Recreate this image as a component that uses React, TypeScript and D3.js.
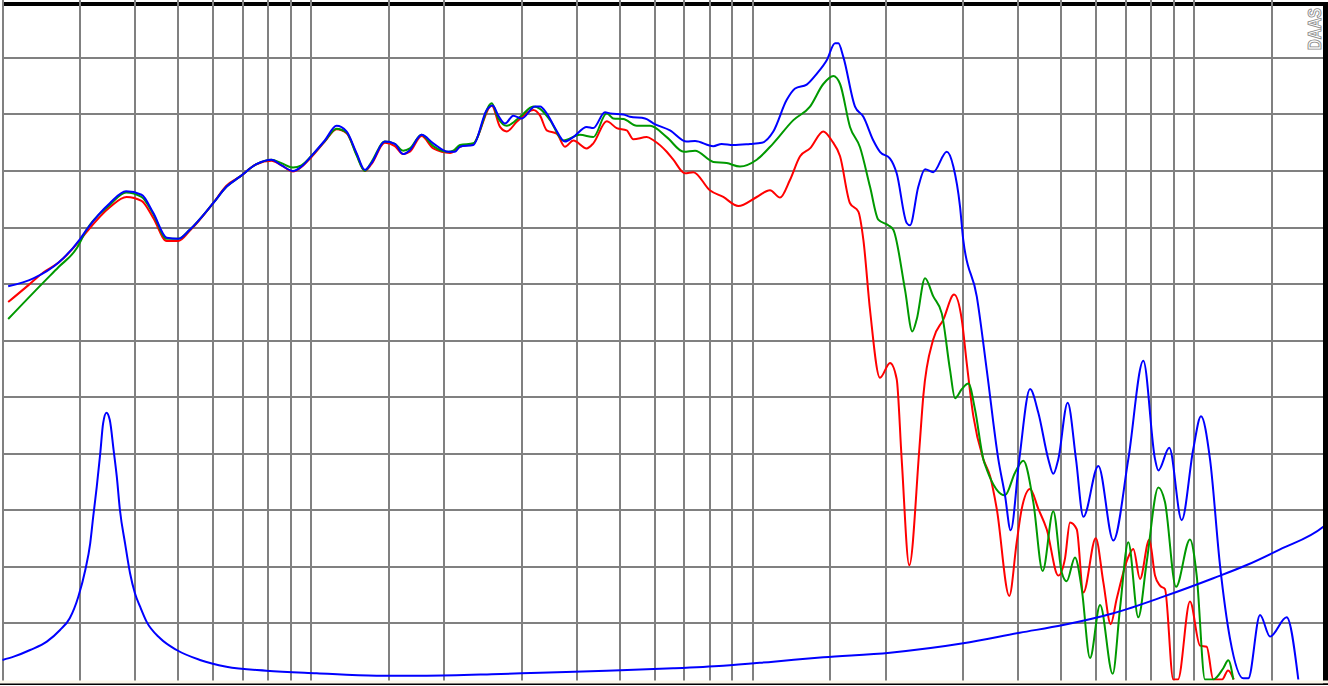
import React from 'react';
import * as d3 from 'd3';

const W = 1328;
const H = 686;

// Frequency grid (Hz) and level grid (dB)
const FREQ_GRID = [20, 30, 40, 50, 60, 70, 80, 90, 100, 150, 200, 300, 400, 500, 600, 700, 800, 900, 1000, 1500, 2000, 3000, 4000, 5000, 6000, 7000, 8000, 9000, 10000, 15000];
const DB_GRID = [45, 50, 55, 60, 65, 70, 75, 80, 85, 90, 95];

// SPL responses [Hz, dB]
const redSpl: [number, number][] = [
  [20.6, 73.4], [22.9, 74.9], [24.7, 76.0], [26.8, 76.9], [30, 78.9], [31, 79.6], [35, 81.8], [38.2, 82.7], [41.3, 82.35], [43.9, 80.85], [47.1, 78.8], [50, 78.8], [53.1, 79.7], [60, 82.15], [64.3, 83.7], [69, 84.5], [75.2, 85.6], [81.3, 85.9], [85.7, 85.5], [91, 84.95], [95.1, 85.35], [100, 86.2], [107.4, 87.6], [114.2, 88.7], [120.3, 88.35], [126.7, 86.5], [132.3, 85.0], [137, 85.6], [146.9, 87.5], [154.8, 87.2], [161.6, 86.5], [167.4, 86.7], [177.9, 88.1], [189.1, 87.0], [206.4, 86.6], [217.4, 87.15], [233, 87.4], [256.5, 90.8], [267.9, 88.9], [277.4, 88.5], [292.3, 89.35], [318.7, 90.4], [330.1, 89.9], [341.8, 88.6], [360.1, 88.3], [375.9, 87.15], [392.6, 87.7], [421, 87.0], [435.7, 87.45], [467.2, 89.4], [492.2, 88.8], [518.6, 88.6], [536.8, 87.8], [575.8, 88.0], [597, 87.7], [639, 86.7], [661.3, 86.0], [703, 84.8], [734, 84.9], [800, 83.3], [858.2, 82.7], [928, 81.9], [1022, 82.7], [1095, 83.3], [1154, 82.65], [1215, 84.2], [1281, 86.3], [1349, 87.0], [1446, 88.5], [1511, 87.7], [1578, 86.3], [1662, 82.15], [1736, 81.4], [1782, 78.9], [1845, 72.7], [1943, 66.7], [2048, 68.0], [2120, 66.6], [2176, 59.5], [2264, 50.1], [2386, 60.4], [2436, 65.1], [2566, 70.1], [2704, 71.85], [2860, 74.06], [2977, 71.85], [3055, 68.0], [3162, 63.3], [3331, 59.5], [3450, 58.0], [3573, 55.1], [3814, 47.4], [3965, 52.15], [4070, 55.1], [4250, 56.85], [4438, 55.1], [4636, 53.3], [4925, 49.2], [5100, 50.7], [5235, 53.9], [5422, 53.3], [5613, 47.7], [5988, 52.5], [6230, 48.6], [6473, 44.9], [6679, 47.15], [7073, 50.7], [7283, 51.55], [7542, 48.9], [7917, 52.4], [8156, 49.2], [8371, 48.3], [8591, 48.0], [8972, 40], [9194, 40], [9788, 46.9], [10313, 43.0], [10679, 42.9], [11053, 40], [11570, 40], [11937, 40.8], [12300, 40],
];

const greenSpl: [number, number][] = [
  [20.6, 71.9], [24.7, 75.1], [26.8, 76.5], [29.5, 78.2], [31, 79.8], [35, 82.0], [38.1, 83.1], [41.3, 82.7], [43.9, 81.2], [47.1, 79.0], [50, 79.0], [53.1, 79.8], [60, 82.15], [64.3, 83.6], [69, 84.5], [75.2, 85.6], [81.3, 86.0], [85.7, 85.7], [91, 85.3], [95.1, 85.5], [100, 86.3], [107.4, 87.65], [114.2, 88.75], [120.3, 88.4], [126.7, 86.4], [132.3, 85.0], [137, 85.8], [146.9, 87.6], [154.8, 87.4], [161.6, 86.8], [167.4, 87.0], [177.9, 88.2], [189.1, 87.2], [204.5, 86.7], [209.9, 86.8], [217.4, 87.3], [233, 87.45], [256.5, 91.0], [265.5, 89.65], [277.4, 89.0], [297.4, 89.8], [318.7, 90.7], [330.1, 90.5], [347.7, 89.5], [372.6, 87.7], [406.5, 88.2], [435.7, 88.0], [467.2, 90.1], [483.6, 89.65], [509.5, 89.6], [546.5, 89.0], [585.8, 89.0], [639, 88.0], [699, 86.7], [740.6, 86.8], [814.7, 85.8], [873.6, 85.7], [936.4, 85.4], [1022, 86.0], [1114, 87.45], [1237, 89.5], [1349, 90.7], [1446, 92.7], [1524, 93.4], [1578, 92.7], [1662, 88.9], [1751, 87.1], [1845, 83.6], [1926, 80.7], [2029, 80.2], [2083, 79.8], [2214, 74.5], [2300, 70.8], [2353, 71.85], [2458, 75.5], [2566, 73.9], [2682, 72.4], [2800, 67.4], [2874, 64.9], [2977, 65.7], [3081, 66.2], [3190, 63.9], [3331, 59.5], [3391, 58.6], [3730, 56.3], [3930, 58.3], [4104, 59.35], [4323, 55.7], [4540, 49.6], [4798, 54.9], [5013, 49.5], [5146, 48.7], [5373, 50.8], [5566, 48.0], [5812, 41.9], [6124, 46.6], [6541, 40.5], [6795, 46.3], [7096, 52.15], [7475, 45.5], [7810, 50.4], [8298, 57.0], [8591, 55.7], [9099, 48.2], [9788, 52.4], [10137, 49.2], [10585, 40], [11053, 40], [11645, 41.0], [11953, 41.7], [12269, 40],
];

const blueSpl: [number, number][] = [
  [20.6, 74.8], [23.5, 75.5], [26.8, 76.9], [30, 79.0], [31, 79.8], [35, 82.15], [38.1, 83.2], [41.3, 82.9], [43.9, 81.3], [47.1, 79.1], [50, 79.0], [53.1, 79.8], [60, 82.15], [64.3, 83.6], [69, 84.5], [75.2, 85.6], [81.3, 86.0], [85.7, 85.5], [91, 85.0], [95.1, 85.4], [100, 86.3], [107.4, 87.7], [114.2, 89.0], [120.3, 88.5], [126.7, 86.6], [132.3, 85.1], [137, 85.7], [146.9, 87.6], [154.8, 87.4], [161.6, 86.5], [167.4, 86.85], [177.9, 88.2], [189.1, 87.45], [204.5, 86.7], [211.8, 86.7], [217.4, 87.15], [233, 87.3], [249.9, 90.4], [257.8, 90.8], [265.5, 89.9], [274.9, 89.2], [287.1, 89.9], [300, 89.65], [321.5, 90.7], [330.1, 90.7], [341.8, 90.1], [356.9, 88.8], [375.9, 87.6], [392.6, 88.0], [421, 88.9], [435.7, 88.8], [463.1, 90.2], [475.3, 90.1], [509.5, 90.0], [527.6, 89.8], [570.7, 89.65], [597, 89.2], [650, 88.6], [709, 87.6], [740.6, 87.65], [814.7, 87.2], [851, 87.4], [904, 87.3], [986.5, 87.4], [1049, 87.5], [1114, 88.5], [1195, 91.3], [1248, 92.3], [1326, 92.65], [1397, 93.6], [1472, 94.8], [1537, 96.3], [1564, 96.3], [1605, 95.1], [1706, 90.7], [1782, 89.8], [1877, 87.7], [1943, 86.7], [2048, 86.1], [2120, 84.8], [2234, 80.4], [2273, 80.2], [2373, 83.6], [2458, 85.15], [2566, 84.9], [2753, 86.7], [2849, 85.4], [2950, 81.85], [3000, 78.9], [3219, 73.9], [3391, 67.4], [3602, 59.5], [3730, 56.3], [3842, 53.2], [4019, 59.5], [4250, 65.7], [4438, 63.6], [4675, 59.5], [4798, 58.2], [4925, 59.5], [5172, 64.5], [5401, 59.5], [5613, 54.4], [6069, 58.9], [6562, 52.3], [7096, 59.5], [7673, 68.2], [8156, 59.5], [8298, 58.5], [8787, 60.5], [9374, 54.1], [9958, 60.4], [10367, 63.3], [10865, 59.5], [11447, 50.1], [12062, 43.6], [12929, 40.1], [13269, 40.1], [14105, 45.7], [14859, 43.8], [16208, 45.5], [17220, 40],
];

// Impedance [Hz, ohm]
const impedance: [number, number][] = [
  [20, 6.73], [21.2, 7.02], [23.1, 7.61], [25.2, 8.35], [27, 9.38], [28.4, 10.42], [29.7, 12.33], [30.8, 14.69], [31.6, 17.05], [32.1, 19.41], [32.7, 22.06], [33.3, 25.02], [33.8, 27.67], [34.4, 28.61], [35.0, 27.96], [35.7, 25.31], [36.3, 22.95], [36.9, 20.0], [37.9, 17.05], [38.9, 14.4], [39.9, 12.63], [41.0, 11.44], [42.4, 10.12], [45.5, 8.65], [49.6, 7.61], [56, 6.73], [64.3, 6.13], [79.2, 5.78], [102.9, 5.55], [140.7, 5.34], [182.8, 5.34], [256.5, 5.46], [330, 5.6], [467, 5.78], [661, 5.99], [858, 6.22], [1114, 6.58], [1446, 6.96], [2048, 7.37], [3000, 8.2], [4030, 9.14], [5050, 9.82], [6562, 10.86], [8517, 12.33], [11053, 13.96], [13160, 15.13], [15656, 16.52], [19618, 18.52], [20000, 18.8],
];

export default function App() {
  const x = d3.scaleLog().domain([20, 20000]).range([2.5, 1327]);
  const y = d3.scaleLinear().domain([40, 100]).range([679.5, 1.5]).clamp(true);
  const yZ = d3.scaleLinear().domain([5, 65]).range([679.5, 1.5]).clamp(true);

  const splLine = d3
    .line<[number, number]>()
    .x((d) => x(d[0]))
    .y((d) => y(d[1]))
    .curve(d3.curveMonotoneX);
  const zLine = d3
    .line<[number, number]>()
    .x((d) => x(d[0]))
    .y((d) => yZ(d[1]))
    .curve(d3.curveMonotoneX);

  const grid = '#808080';

  return (
    <svg
      width={W}
      height={H}
      viewBox={`0 0 ${W} ${H}`}
      style={{ position: 'fixed', left: 0, top: 0, display: 'block' }}
    >
      <defs>
        <clipPath id="plotClip">
          <rect x={2} y={5} width={1321} height={676} />
        </clipPath>
      </defs>
      <rect x={0} y={0} width={W} height={H} fill="#ffffff" />

      {/* top border */}
      <rect x={3} y={2} width={1325} height={4} fill="#000" />

      {/* horizontal grid */}
      {DB_GRID.map((v) => (
        <line
          key={'h' + v}
          x1={2}
          x2={1323}
          y1={Math.round(y(v))}
          y2={Math.round(y(v))}
          stroke={grid}
          strokeWidth={2}
          shapeRendering="crispEdges"
        />
      ))}
      {/* vertical grid */}
      {FREQ_GRID.map((f) => (
        <line
          key={'v' + f}
          x1={Math.round(x(f))}
          x2={Math.round(x(f))}
          y1={0}
          y2={681}
          stroke={grid}
          strokeWidth={2}
          shapeRendering="crispEdges"
        />
      ))}

      {/* watermark */}
      <text
        transform="translate(1321,50) rotate(-90)"
        fontFamily="Liberation Sans, Arial, sans-serif"
        fontSize={18}
        fontWeight="bold"
        textLength={42}
        lengthAdjust="spacingAndGlyphs"
        fill="#ffffff"
        stroke="#8a8a8a"
        strokeWidth={0.9}
      >
        DAAS
      </text>

      <g clipPath="url(#plotClip)" fill="none" strokeWidth={2} strokeLinejoin="round">
        <path d={splLine(redSpl) || ''} stroke="#ff0000" />
        <path d={splLine(greenSpl) || ''} stroke="#009900" />
        <path d={splLine(blueSpl) || ''} stroke="#0000ff" />
        <path d={zLine(impedance) || ''} stroke="#0000ff" />
      </g>

      {/* right border */}
      <rect x={1323} y={2} width={5} height={682} fill="#000" />
      {/* bottom strip */}
      <rect x={0} y={680.5} width={W} height={3} fill="#fbf7ea" />
      <rect x={0} y={683.5} width={W} height={1.5} fill="#000" />
    </svg>
  );
}
